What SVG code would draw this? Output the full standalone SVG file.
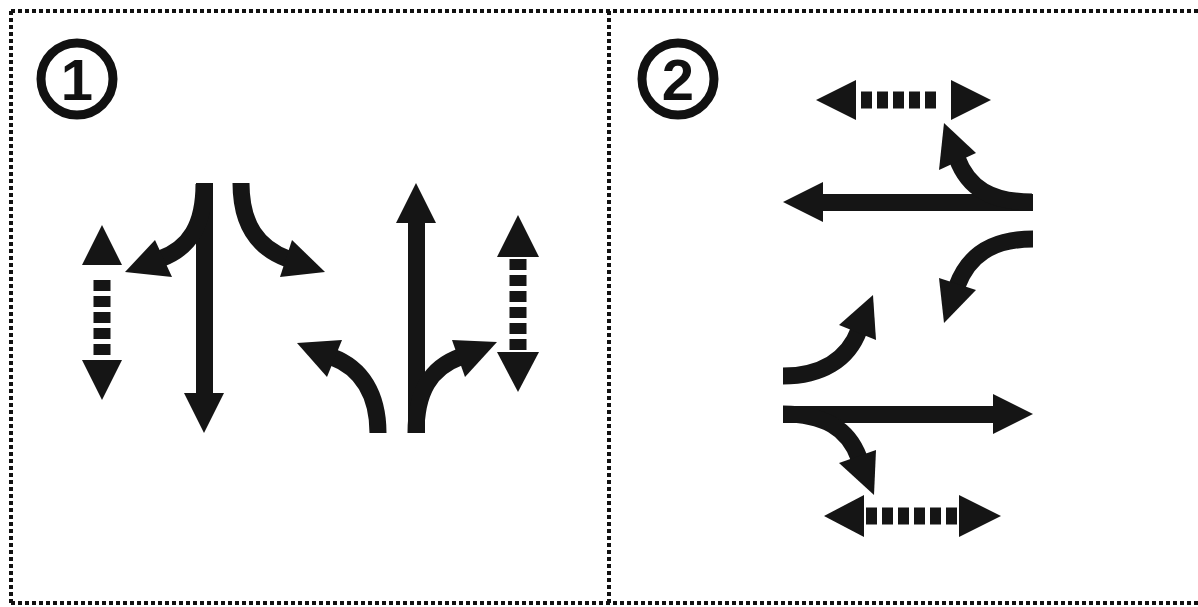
<svg xmlns="http://www.w3.org/2000/svg" xmlns:xlink="http://www.w3.org/1999/xlink" width="1198" height="607" viewBox="0 0 1198 607">
<style>
.frame{fill:none;stroke:#111;stroke-width:4;stroke-dasharray:4 3}
.shaft{fill:#151515}
.curve{fill:none;stroke:#151515;stroke-width:17}
.dots{fill:none;stroke:#151515;stroke-width:17;stroke-dasharray:11 5}
.head{fill:#151515}
.badge{fill:none;stroke:#111;stroke-width:9}
.num{font-family:"Liberation Sans",Arial,sans-serif;font-weight:bold;font-size:58px;fill:#111;text-anchor:middle}
</style>
<rect width="1198" height="607" fill="#fff"/>
<g id="frame">
<path class="frame" d="M11 11H1198M11 11V603M11 603H1198M609 11V603"/>
</g>
<g id="badge1">
<circle class="badge" cx="77" cy="79" r="36"/>
<text class="num" x="77" y="100">1</text>
</g>
<g id="badge2">
<circle class="badge" cx="678" cy="79" r="36"/>
<text class="num" x="678" y="100">2</text>
</g>
<g id="panel1">
<g id="p1-left-dotted">
<polygon class="head" points="82,265 122,265 102,225"/>
<path class="dots" d="M102 280V357"/>
<polygon class="head" points="82,360 122,360 102,400"/>
</g>
<g id="p1-down">
<rect class="shaft" x="196" y="183" width="17" height="212"/>
<polygon class="head" points="184,393 224,393 204,433"/>
<path class="curve" d="M204 184C204 225 190 248 160 259"/>
<polygon class="head" points="155,240 172,277 125,272"/>
</g>
<g id="p1-right-turn">
<path class="curve" d="M241 183C241 225 258 248 288 259"/>
<polygon class="head" points="292,240 280,277 325,272"/>
</g>
<g id="p1-left-turn">
<path class="curve" d="M378 433C378 395 362 368 332 357"/>
<polygon class="head" points="342,340 327,377 297,343"/>
</g>
<g id="p1-up">
<rect class="shaft" x="408" y="221" width="17" height="212"/>
<polygon class="head" points="396,223 436,223 416,183"/>
<path class="curve" d="M416 433C416 392 430 368 460 357"/>
<polygon class="head" points="452,340 465,377 497,342"/>
</g>
<g id="p1-right-dotted">
<polygon class="head" points="497,257 539,257 518,215"/>
<path class="dots" d="M518 259V350"/>
<polygon class="head" points="497,352 539,352 518,392"/>
</g>
</g>
<g id="panel2">
<use xlink:href="#panel1" href="#panel1" transform="translate(1216,-2) rotate(90)"/>
</g>
</svg>
